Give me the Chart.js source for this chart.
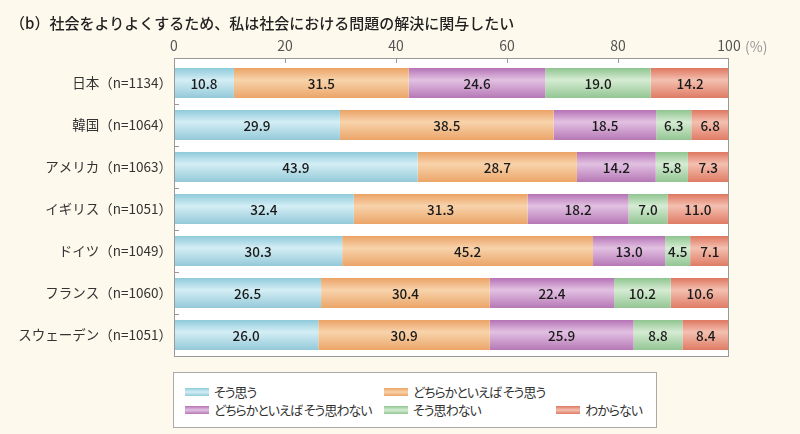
<!DOCTYPE html>
<html lang="ja">
<head>
<meta charset="utf-8">
<script src="https://cdn.jsdelivr.net/npm/chart.js@4"></script>
<style>
  html, body { margin: 0; padding: 0; background: #fdf9ec; }
  #wrap { position: relative; width: 800px; height: 434px; font-family: "Noto Sans CJK JP", sans-serif; color: #333; }
  canvas { position: absolute; left: 0; top: 0; }
  #title { position: absolute; left: 10px; top: 12px; font-size: 15px; line-height: 22px; color: #222; white-space: nowrap; font-weight: 500; }
  #pct { position: absolute; left: 745px; top: 37px; font-size: 14px; line-height: 18px; color: #999; }
  #legend { position: absolute; left: 173px; top: 372px; width: 484px; height: 56px; background: #fff; border: 1px solid #aaa; box-sizing: border-box; font-size: 13px; letter-spacing: -1px; font-feature-settings: "palt"; color: #333; }
  .item { position: absolute; display: flex; align-items: center; white-space: nowrap; line-height: 18px; }
  .sw { width: 24px; height: 8px; margin-right: 5px; }
</style>
</head>
<body>
<div id="wrap">
  <canvas id="chart" width="800" height="434"></canvas>
  <div id="title">（b）社会をよりよくするため、私は社会における問題の解決に関与したい</div>
  <div id="pct">(%)</div>
  <div id="legend"></div>
</div>
<script>
// カテゴリ
const countries = [
    '日本（n=1134）',
    '韓国（n=1064）',
    'アメリカ（n=1063）',
    'イギリス（n=1051）',
    'ドイツ（n=1049）',
    'フランス（n=1060）',
    'スウェーデン（n=1051）'
];

// 回答の系列
const seriesNames = [
    'そう思う',
    'どちらかといえば そう思う',
    'どちらかといえば そう思わない',
    'そう思わない',
    'わからない'
];

const souOmou       = [10.8, 29.9, 43.9, 32.4, 30.3, 26.5, 26.0];
const dochiraSou    = [31.5, 38.5, 28.7, 31.3, 45.2, 30.4, 30.9];
const dochiraNai    = [24.6, 18.5, 14.2, 18.2, 13.0, 22.4, 25.9];
const souOmowanai   = [19.0, 6.3, 5.8, 7.0, 4.5, 10.2, 8.8];
const wakaranai     = [14.2, 6.8, 7.3, 11.0, 7.1, 10.6, 8.4];

const xTicks = [0, 20, 40, 60, 80, 100];

// 色（上・中・下）
const palette = [
    ['#8fcadb', '#d4eef5', '#94c9d9'],
    ['#eba265', '#f8d3ab', '#eba569'],
    ['#b573b5', '#e2c1e2', '#b678b6'],
    ['#8fc48f', '#d5ecd3', '#93c593'],
    ['#de7760', '#f4c0b0', '#df7b64']
];

const seriesData = [souOmou, dochiraSou, dochiraNai, souOmowanai, wakaranai];

// 棒のグラデーション
function barGradient(ctx, i) {
    const chart = ctx.chart;
    const yScale = chart.scales.y;
    if (!yScale || ctx.dataIndex === undefined) return palette[i][0];
    const y = yScale.getPixelForValue(ctx.dataIndex);
    if (!isFinite(y)) return palette[i][0];
    const half = 15;
    const g = chart.ctx.createLinearGradient(0, y - half, 0, y + half);
    g.addColorStop(0, palette[i][0]);
    g.addColorStop(0.4, palette[i][1]);
    g.addColorStop(1, palette[i][2]);
    return g;
}

// 背景と枠と目盛（枠は上に4px広げる）
const framePlugin = {
    id: 'frame',
    beforeDraw(chart) {
        const a = chart.chartArea;
        const c = chart.ctx;
        c.save();
        c.fillStyle = '#ffffff';
        c.fillRect(a.left, a.top - 4, a.right - a.left, a.bottom - a.top + 4);
        c.restore();
    },
    afterDraw(chart) {
        const a = chart.chartArea;
        const c = chart.ctx;
        c.save();
        c.strokeStyle = '#999';
        c.lineWidth = 1;
        c.strokeRect(a.left + 0.5, a.top - 4 + 0.5, a.right - a.left - 1, a.bottom - a.top + 4);
        // 上の目盛
        xTicks.slice(1, -1).forEach(v => {
            const x = Math.round(chart.scales.x.getPixelForValue(v)) + 0.5;
            c.beginPath();
            c.moveTo(x, a.top - 4);
            c.lineTo(x, a.top + 1);
            c.stroke();
        });
        // 左の目盛
        for (let i = 0; i < countries.length - 1; i++) {
            const y = Math.round(chart.scales.y.getPixelForValue(i + 0.5)) + 0.5;
            c.beginPath();
            c.moveTo(a.left, y);
            c.lineTo(a.left + 5, y);
            c.stroke();
        }
        c.restore();
    }
};

// 数値ラベル
const valueLabels = {
    id: 'valueLabels',
    afterDatasetsDraw(chart) {
        const c = chart.ctx;
        c.save();
        c.font = '500 13.5px "Noto Sans CJK JP", sans-serif';
        c.fillStyle = '#1a1a1a';
        c.textAlign = 'center';
        c.textBaseline = 'middle';
        chart.data.datasets.forEach((ds, i) => {
            chart.getDatasetMeta(i).data.forEach((bar, j) => {
                const x = (bar.x + bar.base) / 2;
                c.fillText(ds.data[j].toFixed(1), x, bar.y + 1);
            });
        });
        c.restore();
    }
};

new Chart(document.getElementById('chart'), {
    type: 'bar',
    data: {
        labels: countries,
        datasets: seriesNames.map((name, i) => ({
            label: name,
            data: seriesData[i],
            backgroundColor: ctx => barGradient(ctx, i),
            borderWidth: 0,
            categoryPercentage: 1,
            barPercentage: 0.714
        }))
    },
    options: {
        indexAxis: 'y',
        responsive: false,
        animation: false,
        layout: { padding: { left: 0, top: 0, right: 71, bottom: 78 } },
        plugins: {
            legend: { display: false },
            tooltip: { enabled: false }
        },
        scales: {
            x: {
                position: 'top',
                stacked: true,
                min: 0,
                max: 100,
                afterBuildTicks: s => { s.ticks = xTicks.map(v => ({ value: v })); },
                afterFit: s => { s.height = 62; },
                grid: { display: false, drawTicks: false },
                border: { display: false },
                ticks: {
                    color: '#555',
                    font: { size: 14, family: '"Noto Sans CJK JP", sans-serif' },
                    padding: 8,
                    maxRotation: 0
                }
            },
            y: {
                stacked: true,
                afterFit: s => { s.width = 174; },
                grid: { display: false, drawTicks: false },
                border: { display: false },
                ticks: {
                    color: '#333',
                    font: { size: 13.5, family: '"Noto Sans CJK JP", sans-serif' },
                    padding: 2
                }
            }
        }
    },
    plugins: [framePlugin, valueLabels]
});

// 凡例
const legendPos = [
    [11, 10], [210, 10], [11, 28], [210, 28], [382, 28]
];
const legend = document.getElementById('legend');
seriesNames.forEach((name, i) => {
    const item = document.createElement('div');
    item.className = 'item';
    item.style.left = legendPos[i][0] + 'px';
    item.style.top = legendPos[i][1] + 'px';
    item.innerHTML = `<span class="sw" style="background:linear-gradient(${palette[i][0]},${palette[i][1]},${palette[i][2]})"></span>${name}`;
    legend.appendChild(item);
});
</script>
</body>
</html>
